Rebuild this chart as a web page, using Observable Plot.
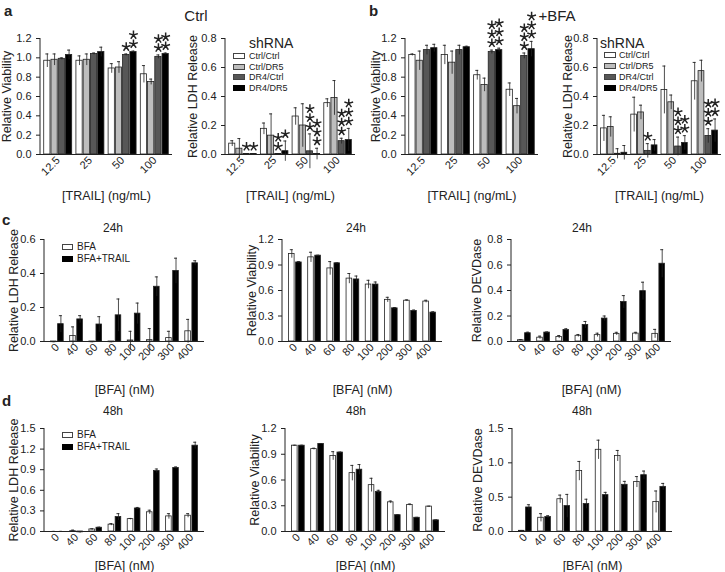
<!DOCTYPE html>
<html><head><meta charset="utf-8">
<script src="https://cdn.jsdelivr.net/npm/d3@7"></script>
<script src="https://cdn.jsdelivr.net/npm/@observablehq/plot@0.6"></script>
<style>
body{margin:0;background:#fff;font-family:"Liberation Sans",Arial,sans-serif;color:#222}
#fig{position:relative;width:725px;height:572px;overflow:hidden;background:#fff}
.t{position:absolute;white-space:nowrap;transform:translate(-50%,-50%);line-height:1}
.p{position:absolute}
.sw{position:absolute;border:1px solid #444;box-sizing:border-box}
.lt{position:absolute;white-space:nowrap;transform:translateY(-50%);line-height:1}
svg [aria-label="y-axis label"], svg [aria-label="x-axis label"]{font-size:12.5px}
</style></head><body><div id="fig"></div>
<script>
// ---------- categories ----------
const trailDoses = ["12.5", "25", "50", "100"];
const shRNA = ["Ctrl/Ctrl", "Ctrl/DR5", "DR4/Ctrl", "DR4/DR5"];
const shColors = ["#ffffff", "#bdbdbd", "#575757", "#000000"];
const bfaDoses = ["0", "40", "60", "80", "100", "200", "300", "400"];
const treatments = ["BFA", "BFA+TRAIL"];
const treatColors = ["#ffffff", "#000000"];

// ---------- panel a (Ctrl) ----------
const aViab = [[0.97, 0.97, 0.89, 0.83], [0.98, 0.98, 0.90, 0.75], [0.99, 1.04, 1.03, 1.01], [1.03, 1.06, 1.06, 1.04]];
const aViabErr = [[0.07, 0.05, 0.05, 0.09], [0.06, 0.06, 0.06, 0.03], [0.01, 0.01, 0.01, 0.02], [0.05, 0.05, 0.01, 0.01]];
const aViabStars = [[0, 0, 0, 0], [0, 0, 0, 0], [0, 0, 1, 2], [0, 0, 2, 2]];
const aLdh = [[0.075, 0.177, 0.262, 0.354], [0.04, 0.13, 0.20, 0.39], [0.003, 0.003, 0.022, 0.092], [0.003, 0.023, 0.003, 0.10]];
const aLdhErr = [[0.02, 0.04, 0.06, 0.03], [0.07, 0.15, 0.15, 0.12], [0.003, 0.003, 0.12, 0.02], [0.003, 0.07, 0.04, 0.08]];
const aLdhStars = [[0, 0, 0, 0], [0, 0, 0, 0], [1, 2, 3, 3], [1, 1, 3, 3]];

// ---------- panel b (+BFA) ----------
const bViab = [[1.03, 1.03, 0.82, 0.67], [0.97, 0.95, 0.72, 0.50], [1.08, 1.08, 1.06, 1.02], [1.10, 1.11, 1.08, 1.09]];
const bViabErr = [[0.01, 0.10, 0.05, 0.07], [0.10, 0.12, 0.07, 0.08], [0.05, 0.05, 0.02, 0.03], [0.04, 0.01, 0.02, 0.08]];
const bViabStars = [[0, 0, 0, 0], [0, 0, 0, 0], [0, 0, 3, 3], [0, 0, 3, 3]];
const bLdh = [[0.18, 0.275, 0.445, 0.505], [0.19, 0.29, 0.36, 0.575], [0.005, 0.025, 0.055, 0.128], [0.012, 0.063, 0.08, 0.165]];
const bLdhErr = [[0.09, 0.12, 0.165, 0.13], [0.07, 0.05, 0.05, 0.075], [0.035, 0.05, 0.065, 0.05], [0.05, 0.04, 0.05, 0.08]];
const bLdhStars = [[0, 0, 0, 0], [0, 0, 0, 0], [0, 1, 3, 3], [0, 0, 2, 2]];

// ---------- panel c (24h) ----------
const cLdh = [[-0.004, 0.032, -0.004, -0.004, 0.006, 0.008, 0.02, 0.06], [0.102, 0.13, 0.10, 0.154, 0.164, 0.322, 0.415, 0.46]];
const cLdhErr = [[0.003, 0.054, 0.003, 0.003, 0.054, 0.068, 0.04, 0.07], [0.05, 0.022, 0.046, 0.096, 0.062, 0.058, 0.075, 0.015]];
const cViab = [[1.03, 0.99, 0.86, 0.74, 0.67, 0.49, 0.48, 0.47], [0.93, 1.01, 0.92, 0.73, 0.67, 0.39, 0.36, 0.34]];
const cViabErr = [[0.05, 0.06, 0.08, 0.06, 0.05, 0.03, 0.01, 0.015], [0.01, 0.005, 0.005, 0.04, 0.03, 0.01, 0.01, 0.01]];
const cDevd = [[0.01, 0.03, 0.035, 0.045, 0.05, 0.06, 0.062, 0.06], [0.065, 0.07, 0.09, 0.13, 0.18, 0.31, 0.395, 0.61]];
const cDevdErr = [[0.005, 0.012, 0.012, 0.01, 0.015, 0.012, 0.01, 0.035], [0.008, 0.005, 0.01, 0.027, 0.02, 0.05, 0.07, 0.11]];

// ---------- panel d (48h) ----------
const dLdh = [[0.0, 0.005, 0.03, 0.10, 0.18, 0.28, 0.22, 0.23], [0.0, -0.012, 0.055, 0.21, 0.335, 0.88, 0.925, 1.25]];
const dLdhErr = [[0.002, 0.015, 0.01, 0.015, 0.01, 0.03, 0.04, 0.03], [0.002, 0.01, 0.008, 0.05, 0.015, 0.03, 0.015, 0.05]];
const dViab = [[1.0, 0.96, 0.88, 0.68, 0.54, 0.34, 0.31, 0.29], [1.0, 1.02, 0.92, 0.72, 0.46, 0.19, 0.16, 0.13]];
const dViabErr = [[0.005, 0.01, 0.05, 0.09, 0.08, 0.015, 0.01, 0.005], [0.005, 0.005, 0.005, 0.06, 0.02, 0.005, 0.005, 0.005]];
const dDevd = [[0.01, 0.20, 0.47, 0.88, 1.19, 1.10, 0.72, 0.43], [0.35, 0.21, 0.37, 0.40, 0.53, 0.68, 0.82, 0.65]];
const dDevdErr = [[0.005, 0.06, 0.06, 0.14, 0.14, 0.08, 0.08, 0.16], [0.04, 0.02, 0.17, 0.07, 0.04, 0.05, 0.06, 0.05]];

const fig = document.getElementById("fig");
const INK = "#222";

// five-armed asterisk used for significance marks
const star5 = {
  draw(context, size) {
    const r = 4.6;
    for (let k = 0; k < 5; ++k) {
      const a = -Math.PI / 2 + k * 2 * Math.PI / 5;
      context.moveTo(0, 0);
      context.lineTo(r * Math.cos(a), r * Math.sin(a));
    }
  }
};

function chart(o) {
  const {groups, series, colors, values, errors, stars, yMax, yStep, yLabel, xLabel,
    left, top, width, height, ml = 40, mr = 4, mt, mb, pi, po, gap, cap, yLabelOffset, xLabelOffset} = o;
  const n = series.length;
  const rows = [];
  series.forEach((s, i) => groups.forEach((g, j) => rows.push({
    g, s, i, v: values[i][j], e: errors[i][j], k: stars ? stars[i][j] : 0
  })));
  const bw = d3.scaleBand().domain(groups).range([ml, width - mr]).paddingInner(pi).paddingOuter(po).bandwidth();
  const sub = bw / n;
  const marks = [];
  series.forEach((s, i) => {
    const data = rows.filter(d => d.i === i);
    const off = (i + 0.5) * sub - bw / 2;
    marks.push(Plot.barY(data, {
      x: "g", y: "v", fill: colors[i], stroke: INK, strokeWidth: 0.8,
      insetLeft: i * sub + gap / 2, insetRight: (n - 1 - i) * sub + gap / 2
    }));
    marks.push(Plot.ruleX(data, {x: "g", y1: d => d.v - d.e, y2: d => d.v + d.e, dx: off, stroke: INK, strokeWidth: 0.8}));
    marks.push(Plot.tickY(data, {
      x: "g", y: d => d.v + d.e, stroke: INK, strokeWidth: 0.9,
      insetLeft: i * sub + sub / 2 - cap / 2, insetRight: (n - 1 - i) * sub + sub / 2 - cap / 2
    }));
    if (stars) {
      for (let m = 0; m < 3; ++m) {
        marks.push(Plot.dot(data.filter(d => d.k > m), {
          x: "g", y: d => d.v + d.e, dx: off, dy: -(7 + m * 9),
          symbol: star5, r: 4, fill: "none", stroke: INK, strokeWidth: 1.5
        }));
      }
    }
  });
  marks.push(Plot.ruleY([0], {stroke: INK, strokeWidth: 1}));
  marks.push((index, scales, values, dims) => {
    const l = document.createElementNS("http://www.w3.org/2000/svg", "line");
    l.setAttribute("x1", dims.marginLeft); l.setAttribute("x2", dims.marginLeft);
    l.setAttribute("y1", dims.marginTop); l.setAttribute("y2", dims.height - dims.marginBottom);
    l.setAttribute("stroke", INK);
    return l;
  });
  const svg = Plot.plot({
    width, height, marginLeft: ml, marginRight: mr, marginTop: mt, marginBottom: mb,
    style: {fontFamily: "'Liberation Sans', Arial, sans-serif", fontSize: "11px", color: INK, background: "transparent", overflow: "visible"},
    x: {type: "band", domain: groups, paddingInner: pi, paddingOuter: po, round: false,
        tickRotate: -45, tickSize: 0, tickPadding: 4, label: xLabel, labelAnchor: "center", labelOffset: xLabelOffset, labelArrow: "none"},
    y: {domain: [0, yMax], ticks: d3.range(0, yMax + 1e-9, yStep), tickFormat: d3.format(".1f"),
        tickSize: 4, label: yLabel, labelAnchor: "center", labelOffset: yLabelOffset, labelArrow: "none"},
    marks
  });
  const div = document.createElement("div");
  div.className = "p";
  div.style.left = left + "px"; div.style.top = top + "px";
  div.appendChild(svg);
  fig.appendChild(div);
}

function text(str, cx, cy, css) {
  const d = document.createElement("div");
  d.className = "t"; d.textContent = str;
  d.style.left = cx + "px"; d.style.top = cy + "px";
  Object.assign(d.style, css || {});
  fig.appendChild(d);
}
function legend(names, colors, swLeft, swW, swH, txtLeft, ys, fontSize) {
  names.forEach((nm, i) => {
    const s = document.createElement("div");
    s.className = "sw";
    Object.assign(s.style, {left: swLeft + "px", top: (ys[i] - swH / 2) + "px", width: swW + "px", height: swH + "px", background: colors[i]});
    if (colors[i] === "#000000") s.style.borderColor = "#000";
    fig.appendChild(s);
    const t = document.createElement("div");
    t.className = "lt"; t.textContent = nm;
    Object.assign(t.style, {left: txtLeft + "px", top: ys[i] + "px", fontSize: fontSize + "px"});
    fig.appendChild(t);
  });
}

// ---- row a/b ----
const abCommon = {groups: trailDoses, series: shRNA, colors: shColors, top: 20, height: 182, mt: 18, mb: 48,
  pi: 0.1, po: 0.1, gap: 1, cap: 3, xLabel: "[TRAIL] (ng/mL)", xLabelOffset: 45};
chart({...abCommon, values: aViab, errors: aViabErr, stars: aViabStars, yMax: 1.2, yStep: 0.2, yLabel: "Relative Viability",
  left: 0, width: 176, yLabelOffset: 38});
chart({...abCommon, values: aLdh, errors: aLdhErr, stars: aLdhStars, yMax: 0.8, yStep: 0.2, yLabel: "Relative LDH Release",
  left: 185, width: 174, yLabelOffset: 37});
chart({...abCommon, values: bViab, errors: bViabErr, stars: bViabStars, yMax: 1.2, yStep: 0.2, yLabel: "Relative Viability",
  left: 365, width: 177, yLabelOffset: 34});
chart({...abCommon, values: bLdh, errors: bLdhErr, stars: bLdhStars, yMax: 0.8, yStep: 0.2, yLabel: "Relative LDH Release",
  left: 557, width: 168, yLabelOffset: 34});

// ---- row c ----
const cCommon = {groups: bfaDoses, series: treatments, colors: treatColors, top: 225, height: 168, mt: 14, mb: 52,
  pi: 0.26, po: 0.3, gap: 1.5, cap: 3, stars: null, xLabel: "[BFA] (nM)", xLabelOffset: 52};
chart({...cCommon, values: cLdh, errors: cLdhErr, yMax: 0.6, yStep: 0.2, yLabel: "Relative LDH Release", left: 4, width: 204, yLabelOffset: 35});
chart({...cCommon, values: cViab, errors: cViabErr, yMax: 1.2, yStep: 0.3, yLabel: "Relative Viability", left: 242, width: 204, yLabelOffset: 35});
chart({...cCommon, values: cDevd, errors: cDevdErr, yMax: 0.8, yStep: 0.2, yLabel: "Relative DEVDase", left: 471, width: 204, yLabelOffset: 39});

// ---- row d ----
const dCommon = {groups: bfaDoses, series: treatments, colors: treatColors, top: 414, height: 158, mt: 14, mb: 41,
  pi: 0.26, po: 0.3, gap: 1.5, cap: 3, stars: null, xLabel: "[BFA] (nM)", xLabelOffset: 38};
chart({...dCommon, values: dLdh, errors: dLdhErr, yMax: 1.5, yStep: 0.3, yLabel: "Relative LDH Release", left: 4, width: 204, yLabelOffset: 35});
chart({...dCommon, values: dViab, errors: dViabErr, yMax: 1.2, yStep: 0.3, yLabel: "Relative Viability", left: 245, width: 204, yLabelOffset: 35});
chart({...dCommon, values: dDevd, errors: dDevdErr, yMax: 1.5, yStep: 0.5, yLabel: "Relative DEVDase", left: 472, width: 204, yLabelOffset: 39});

// ---- titles & panel letters ----
const bold = {fontWeight: "bold", fontSize: "15px", transform: "translate(0,-50%)"};
text("a", 4, 10, bold);
text("b", 369, 10, bold);
text("c", 2, 219, bold);
text("d", 2, 400, bold);
text("Ctrl", 196, 15, {fontSize: "15px"});
text("+BFA", 557, 15, {fontSize: "15px"});
["24h", "24h", "24h"].forEach((s, i) => text(s, [113, 356, 582][i], 228, {fontSize: "12px"}));
["48h", "48h", "48h"].forEach((s, i) => text(s, [113, 356, 582][i], 411, {fontSize: "12px"}));

// ---- legends ----
text("shRNA", 249, 43, {fontSize: "14px", transform: "translate(0,-50%)"});
legend(shRNA, shColors, 233, 12, 6, 249, [56, 66.5, 77, 87.5], 9);
text("shRNA", 600, 43, {fontSize: "14px", transform: "translate(0,-50%)"});
legend(shRNA, shColors, 604, 12, 6, 619, [55, 65.5, 76.5, 87.5], 9);
legend(treatments, treatColors, 62, 11, 6, 77, [247, 259], 10);
legend(treatments, treatColors, 62, 11, 6, 77, [435, 447], 10);
</script></body></html>
